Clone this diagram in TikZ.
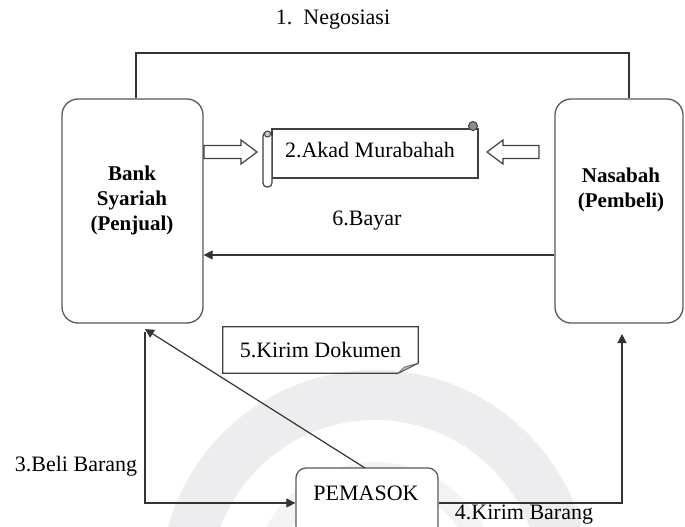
\documentclass[tikz,border=0pt]{standalone}
\usepackage{fontspec}
\setmainfont{Liberation Serif}
\usetikzlibrary{arrows.meta,calc}
\begin{document}
\begin{tikzpicture}[x=1pt,y=-1pt,
  party/.style={draw=black!65,line width=1.3pt,rounded corners=16pt,minimum width=#1,minimum height=224pt,inner sep=0pt},
  txt/.style={inner sep=0pt,font=\fontsize{22}{25}\selectfont},
  btxt/.style={inner sep=0pt,align=center,font=\bfseries\fontsize{21}{25}\selectfont},
  conn/.style={draw=black!80,line width=1.2pt},
  arr/.style={conn,-{Triangle[length=9pt,width=9pt]}},
  blockarrow/.style={draw=black!75,line width=1.2pt,fill=white,line join=miter},
  paper/.style={draw=black!75,line width=1.2pt,fill=white}
]
\useasboundingbox (0,0) rectangle (685,527);
\clip (0,0) rectangle (685,527);
\fill[white] (0,0) rectangle (685,527);
% faint watermark
\draw[line width=50pt,blue!10!gray!13] (375,585) circle (190);
\draw[line width=22pt,blue!10!gray!9] (375,585) circle (112);

% parties
\node[party=141pt] (bank) at (132.5,211) {};
\node[party=128pt] (nasabah) at (619,211) {};
\node[btxt] (banktxt) at (132,200) {Bank\\Syariah\\(Penjual)};
\node[btxt] (nastxt) at (621,190) {Nasabah\\(Pembeli)};

% 1. Negosiasi
\node[txt] (neg) at (333,20) {1.\ \ Negosiasi};
\coordinate (nl) at (136,53);
\coordinate (nr) at (629,53);
\draw[conn] (bank.north -| nl) -- (nl) -- (nr) -- (nasabah.north -| nr);

% 2. Akad Murabahah scroll
\node[paper,minimum width=206pt,minimum height=49pt,inner sep=0pt] (akad) at (375,153.5) {};
\draw[paper,rounded corners=4pt] (263,132) rectangle (272,187);
\filldraw[draw=black!75,fill=black!45,line width=1pt] (473,126) circle (4.5pt);
\draw[draw=black!75,line width=1pt,fill=black!20] (267.5,134) circle (3pt);
\node[txt] (akadtxt) at (370,150) {2.Akad Murabahah};

% block arrows
\coordinate (ba1) at (204,152);
\coordinate (ba2) at (539,152);
\draw[blockarrow] (ba1) ++(0,-6.5) -- ++(37,0) -- ++(0,-5.5) -- ++(16,12) -- ++(-16,12) -- ++(0,-5.5) -- ++(-37,0) -- cycle;
\draw[blockarrow] (ba2) ++(0,-6.5) -- ++(-36,0) -- ++(0,-5.5) -- ++(-16,12) -- ++(16,12) -- ++(0,-5.5) -- ++(36,0) -- cycle;

% 6. Bayar
\coordinate (by) at (0,255);
\draw[arr] (nasabah.west |- by) -- (bank.east |- by);
\node[txt] (bayar) at (367,221) {6.Bayar};

% 5. Kirim Dokumen
\node[txt,minimum width=195pt,minimum height=46pt] (dok) at (320.5,350) {5.Kirim Dokumen};
\draw[paper,fill=none] (dok.north west) -- (dok.north east) -- ($(dok.south east)+(0,-10)$) -- ($(dok.south east)+(-20,0)$) -- (dok.south west) -- cycle;
\filldraw[draw=black!60,fill=gray!45,line width=0.8pt] ($(dok.south east)+(0,-10)$) -- ($(dok.south east)+(-14,-6)$) -- ($(dok.south east)+(-20,0)$) -- cycle;

% PEMASOK
\node[draw=black!65,line width=1.3pt,rounded corners=10pt,fill=white,minimum width=142pt,minimum height=80pt,inner sep=0pt] (pem) at (367,508) {};
\node[txt] (pemtxt) at (366,493) {PEMASOK};

% 3. Beli Barang
\coordinate (bt) at (145,332);
\coordinate (bb) at (145,503);
\draw[arr] (bt) -- (bb) -- (pem.west |- bb);
\node[txt] (beli) at (76,466) {3.Beli Barang};

% 5 line: pemasok to bank
\coordinate (ptop) at (365,468);
\coordinate (btip) at (145,329);
\draw[arr] (ptop) -- (btip);

% 4. Kirim Barang
\coordinate (kr) at (622,503);
\coordinate (kt) at (622,334);
\draw[arr] (pem.east |- kr) -- (kr) -- (kt);
\node[txt] (kirim) at (524,515) {4.Kirim Barang};
\end{tikzpicture}
\end{document}
